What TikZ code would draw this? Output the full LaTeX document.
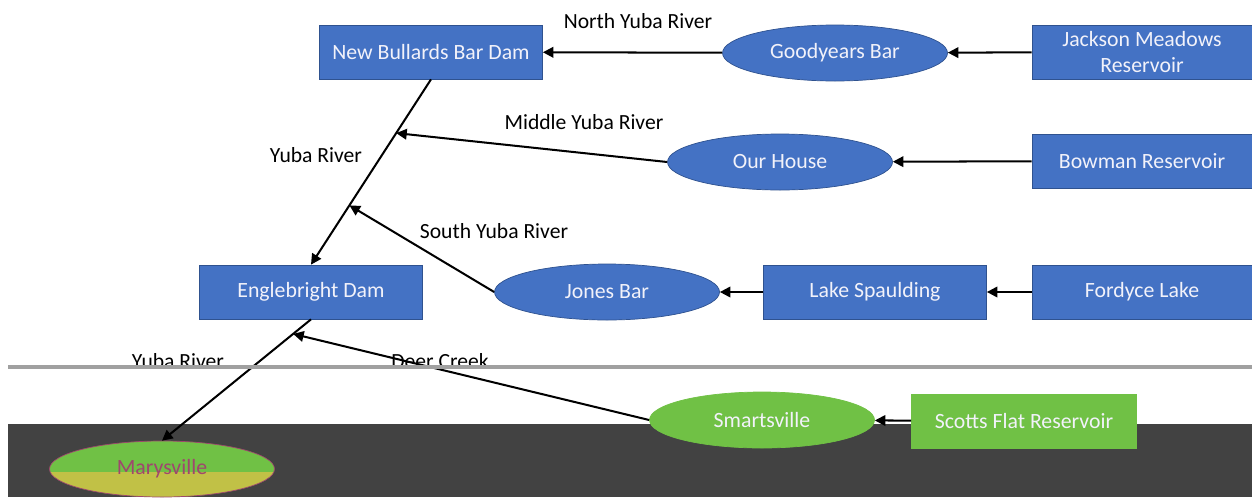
\documentclass[tikz,border=0pt]{standalone}
\usepackage{fontspec}
\setmainfont{Carlito}
\usepackage{tikz}
\usetikzlibrary{arrows.meta,positioning,calc,shapes.geometric}
\definecolor{damblue}{RGB}{68,114,196}
\definecolor{damedge}{RGB}{47,82,143}
\definecolor{townfill}{RGB}{112,193,69}
\definecolor{townlow}{RGB}{193,193,70}
\definecolor{townedge}{RGB}{160,70,110}
\definecolor{boxtext}{RGB}{242,242,250}
\definecolor{bandcol}{RGB}{66,66,66}
\definecolor{seamcol}{RGB}{160,160,160}
\tikzset{
  flow/.style={-{Triangle[length=6pt,width=6pt]},line width=1.15pt},
  site/.style={draw=damedge,fill=damblue,minimum width=44.6mm,minimum height=10.8mm,
    align=center,text=boxtext,font=\fontsize{12.4}{15}\selectfont,inner sep=1pt},
  town/.style={ellipse,draw=damedge,fill=damblue,minimum width=45mm,minimum height=11.2mm,
    inner sep=0pt,text=boxtext,font=\fontsize{12.4}{15}\selectfont},
  river/.style={font=\fontsize{12.3}{15}\selectfont,inner sep=1pt}
}
\begin{document}
\begin{tikzpicture}[x=0.2mm,y=-0.2mm]
  \useasboundingbox (0,0) rectangle (1252,497);
  % broken lower strip of the scan
  \fill[bandcol] (8,424) rectangle (1252,497);
  % upper chain
  \node[site] (nbb) at (431,52) {New Bullards Bar Dam};
  \node[town] (gyb) at (835,53) {Goodyears Bar};
  \node[site,minimum width=44mm] (jmr) at (1142,52) {Jackson Meadows\\Reservoir};
  \node[town] (our) at (780,162) {Our House};
  \node[site,minimum width=44mm] (bow) at (1142,161) {Bowman Reservoir};
  \node[site] (eng) at (311,292) {Englebright Dam};
  \node[town] (jon) at (607,292) {Jones Bar};
  \node[site] (spa) at (875,292) {Lake Spaulding};
  \node[site,minimum width=44mm] (ford) at (1142,292) {Fordyce Lake};
  % lower part
  \node[town,fill=townfill,draw=townedge,text=townedge,
    path picture={\fill[townlow] ([yshift=-1.5pt]path picture bounding box.west) rectangle (path picture bounding box.south east);}]
    (mary) at (162,469) {Marysville};
  \node[town,fill=townfill,draw=townfill] (smart) at (762,420) {Smartsville};
  \node[site,fill=townfill,draw=townfill,minimum width=45mm] (scott) at (1024,421) {Scotts Flat Reservoir};
  % joins on the main river
  \coordinate (midjoin) at ($(nbb.south)!0.29!(eng.north)$);
  \coordinate (southjoin) at ($(nbb.south)!0.68!(eng.north)$);
  \coordinate (deerjoin) at ($(eng.south)!0.12!(mary.north)$);
  % rivers
  \draw[flow] (jmr) -- (gyb);
  \draw[flow] (gyb) -- (nbb);
  \draw[flow] (bow) -- (our);
  \draw[flow] (our.west) -- (midjoin);
  \draw[flow] (ford) -- (spa);
  \draw[flow] (spa) -- (jon);
  \draw[flow] (jon.west) -- (southjoin);
  \draw[flow] (nbb.south) -- (eng.north);
  \draw[flow] (eng.south) -- (mary.north);
  \draw[flow] (smart.west) -- (deerjoin);
  \draw[flow] (scott) -- (smart);
  \node[river] (northlbl) at (638,21) {North Yuba River};
  \node[river] (midlbl) at (584,122) {Middle Yuba River};
  \node[river] (yubalbl) at (316,155) {Yuba River};
  \node[river] (southlbl) at (494,231) {South Yuba River};
  \node[river] (lowlbl) at (178,361) {Yuba River};
  \node[river] (deerlbl) at (440,361) {Deer Creek};
  % seam across the scan
  \fill[seamcol] (8,365) rectangle (1252,369);
\end{tikzpicture}
\end{document}
